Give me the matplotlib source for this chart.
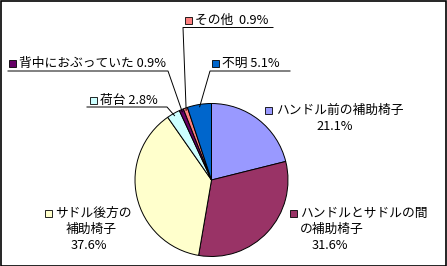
import numpy as np
import matplotlib
matplotlib.use("Agg")
import matplotlib.pyplot as plt
from matplotlib.patches import Rectangle

plt.rcParams["font.family"] = ["Noto Sans CJK JP", "DejaVu Sans"]

# data (clockwise from 12 o'clock)
labels = ["ハンドル前の補助椅子", "ハンドルとサドルの間の補助椅子", "サドル後方の補助椅子",
          "荷台", "背中におぶっていた", "その他", "不明"]
shares = [21.1, 31.6, 37.6, 2.8, 0.9, 0.9, 5.1]
colors = ["#9999FF", "#993366", "#FFFFCC", "#CCFFFF", "#660066", "#FF8080", "#0066CC"]

W, H = 447, 266
CX, CY, R = 211.5, 180, 76.5
FS = 9.2


def py(y):
    return H - y


fig = plt.figure(figsize=(W / 100, H / 100), dpi=100)
ax = fig.add_axes([0, 0, 1, 1])
ax.pie(shares, colors=colors, startangle=90, counterclock=False,
       center=(CX, py(CY)), radius=R,
       wedgeprops=dict(edgecolor="black", linewidth=0.7))
ax.set_xlim(0, W)
ax.set_ylim(0, H)
ax.set_aspect("auto")
ax.axis("off")


def anchor(i, frac=1.0):
    before = sum(shares[:i]) + shares[i] / 2
    a = np.deg2rad(90 - before / 100 * 360)
    return CX + R * frac * np.cos(a), CY - R * frac * np.sin(a)


def square(x, y, c):
    ax.add_patch(Rectangle((x, py(y + 7)), 7, 7, facecolor=c,
                           edgecolor="black", linewidth=0.6))


def text(x, y, s, ha="left"):
    ax.text(x, py(y), s, ha=ha, va="center", fontsize=FS, color="black")


# label lines: (index, square x, square y, line text)
single = [
    (5, 185, 17, "その他  0.9%"),
    (6, 212, 60, "不明 5.1%"),
    (4, 9, 60, "背中におぶっていた 0.9%"),
    (3, 90, 97, "荷台 2.8%"),
]
for i, sx, sy, s in single:
    square(sx, sy, colors[i])
    text(sx + 10, sy + 3.5, s)

# leader lines (elbow point -> underline end)
leaders = {
    5: [(273, 27.5), (183, 27.5)],
    6: [(290, 71), (210, 71)],
    4: [(8, 71), (168, 71)],
    3: [(87, 107), (167, 107)],
}
for i, pts in leaders.items():
    ax_, ay_ = anchor(i, 0.97)
    xs = [p[0] for p in pts] + [ax_]
    ys = [py(p[1]) for p in pts] + [py(ay_)]
    ax.plot(xs, ys, color="black", linewidth=0.7)

# multi-line labels
square(265, 107, colors[0])
text(276, 110.5, "ハンドル前の補助椅子")
text(335, 127, f"{shares[0]}%", ha="center")

square(290, 210, colors[1])
text(300, 213.5, "ハンドルとサドルの間")
text(300, 229.5, "の補助椅子")
text(330, 245.5, f"{shares[1]}%", ha="center")

square(45, 210, colors[2])
text(55, 213.5, "サドル後方の")
text(91, 229.5, "補助椅子", ha="center")
text(89, 245.5, f"{shares[2]}%", ha="center")

# outer frame
fig.patches.append(Rectangle((0.5 / W, 0.5 / H), 1 - 1.5 / W, 1 - 1.5 / H,
                             transform=fig.transFigure, fill=False,
                             edgecolor="black", linewidth=1.2))

fig.savefig("out.png", dpi=100, facecolor="white")
